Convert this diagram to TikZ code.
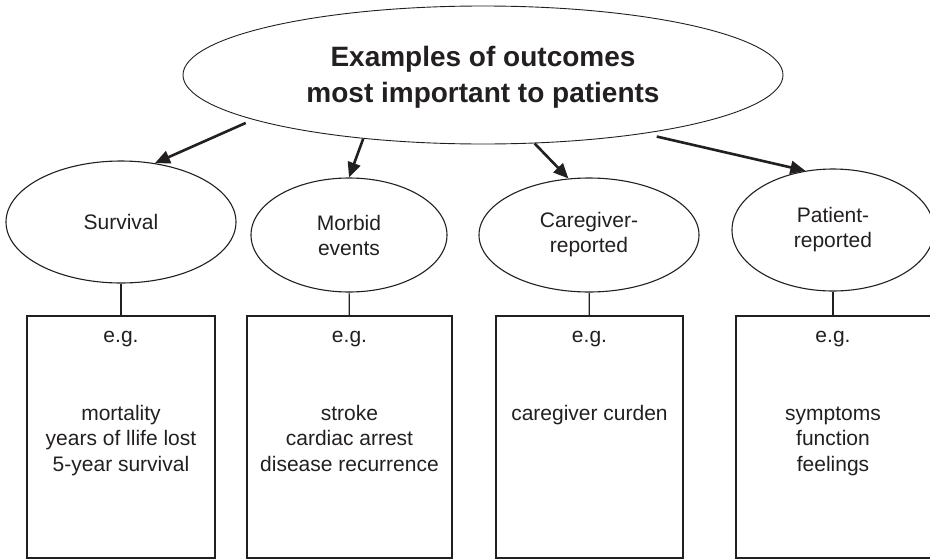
\documentclass[tikz,border=0pt]{standalone}
\usepackage{fontspec}
\setmainfont{Liberation Sans}
\usetikzlibrary{shapes.geometric,arrows.meta,positioning}
\definecolor{ink}{HTML}{231F20}

\tikzset{
  outcome/.style={draw=ink, ellipse, line width=1.1pt, inner sep=0pt, align=center,
    text=ink, font=\fontsize{21}{25}\selectfont},
  examplebox/.style={draw=ink, rectangle, line width=1.4pt, inner sep=0pt, minimum height=242pt},
  boxtext/.style={text=ink, align=center, inner sep=0pt, font=\fontsize{21}{25.5}\selectfont},
  link/.style={draw=ink, line width=1.2pt},
  arrowline/.style={draw=ink, line width=2.6pt, -{Triangle[length=15pt,width=13pt]}}
}

\begin{document}
\begin{tikzpicture}[x=1pt,y=1pt]
\useasboundingbox (0,0) rectangle (930,-560);
% top ellipse
\node [outcome, line width=0.9pt, minimum width=600pt, minimum height=138pt] (title) at (483,-75) {};
\node [text=ink, align=center, inner sep=0pt, anchor=base, font=\bfseries\fontsize{28}{36}\selectfont]
  (titletext) at (483,-102.7) {Examples of outcomes\\most important to patients};
% outcome ellipses
\node [outcome, minimum width=230pt, minimum height=122pt] (surv) at (121,-222) {Survival};
\node [outcome, minimum width=196pt, minimum height=114pt] (morb) at (349,-235) {Morbid\\events};
\node [outcome, minimum width=220pt, minimum height=114pt] (care) at (589,-235) {Caregiver-\\reported};
\node [outcome, minimum width=202pt, minimum height=122pt] (pat) at (833,-230) {Patient-\\reported};
% arrows
\draw [arrowline, shorten <=8pt] (title.191) -- (surv.60);
\draw [arrowline] (title.208) -- (morb.90);
\draw [arrowline] (title.307.5) -- (care.110);
\draw [arrowline, shorten <=13pt] (title.340) -- (pat.115.5);
% example boxes
\node [examplebox, minimum width=188pt] (survbox) at (121,-437) {};
\node [examplebox, minimum width=205pt] (morbbox) at (349.5,-437) {};
\node [examplebox, minimum width=187pt] (carebox) at (589.5,-437) {};
\node [examplebox, minimum width=196pt] (patbox) at (834,-437) {};
\draw [link] (surv) -- (survbox);
\draw [link] (morb) -- (morbbox);
\draw [link] (care) -- (carebox);
\draw [link] (pat.south) -- (pat.south |- patbox.north);
% box texts
\node [boxtext, anchor=base] (surveg) at (121,-342) {e.g.};
\node [boxtext, anchor=base] (morbeg) at (349.5,-342) {e.g.};
\node [boxtext, anchor=base] (careeg) at (589.5,-342) {e.g.};
\node [boxtext, anchor=base] (pateg) at (833,-342) {e.g.};
\node [boxtext, anchor=base] (survlist) at (121,-471)
  {mortality\\years of llife lost\\5-year survival};
\node [boxtext, anchor=base] (morblist) at (349.5,-471)
  {stroke\\cardiac arrest\\disease recurrence};
\node [boxtext, anchor=base] (carelist) at (589.5,-420) {caregiver curden};
\node [boxtext, anchor=base] (patlist) at (833,-471)
  {symptoms\\function\\feelings};
\end{tikzpicture}
\end{document}
